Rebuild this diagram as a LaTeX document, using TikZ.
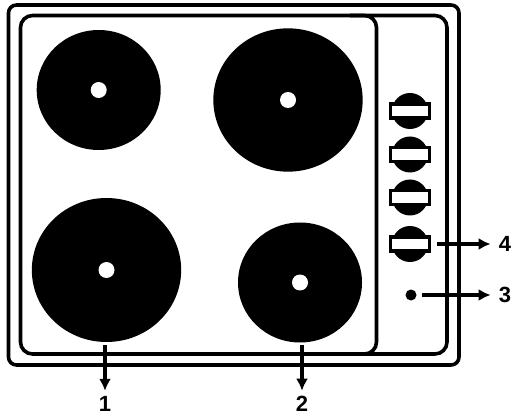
\documentclass[tikz,border=0pt]{standalone}
\usepackage{fontspec}
\setmainfont{Liberation Sans}
\usepackage{tikz}
\usetikzlibrary{arrows.meta,shapes.geometric}
\tikzset{
  plate/.style 2 args={ellipse,fill=black,inner sep=0pt,minimum width=#1,minimum height=#2},
  hole/.style={circle,fill=white,inner sep=0pt,minimum size=12pt},
  knob/.style={circle,fill=black,inner sep=0pt,minimum size=27pt},
  handle/.style={draw=black,line width=2.6pt,fill=white,inner sep=0pt,minimum width=29.6pt,minimum height=10.5pt},
  num/.style={font=\bfseries\fontsize{16.5pt}{16.5pt}\selectfont,inner sep=0pt},
  pointer/.style={line width=2.3pt,-{Latex[length=9pt,width=9pt]}},
  frame/.style={line width=2.7pt}
}
\begin{document}
\begin{tikzpicture}[x=0.75pt,y=-0.75pt]
            \useasboundingbox (0,0) rectangle (513,416);
            \fill[white] (0,0) rectangle (513,416);
            \draw[frame,rounded corners=6pt] (8.5,5) rectangle (459,365);
            \draw[frame,rounded corners=9pt] (20.5,15.5) rectangle (447,354);
            \draw[frame,rounded corners=9pt] (350,15.5)--(376.5,15.5)--(376.5,354)--(350,354);
            \node[plate={93pt}{90pt}] (plateA) at (98.7,90) {};
            \node[plate={112pt}{107.5pt}] (plateB) at (288,100) {};
            \node[plate={112pt}{108pt}] (plateC) at (106.5,270) {};
            \node[plate={93pt}{90pt}] (plateD) at (300,282.5) {};
            \node[hole] at (plateA) {};
            \node[hole] at (plateB) {};
            \node[hole] at (plateC) {};
            \node[hole] at (plateD) {};
            \foreach \n/\y in {1/111,2/154.5,3/197.5,4/244} {
                \node[knob] (knob\n) at (410,\y) {};
                \node[handle] (handle\n) at (410,\y) {};
            }
            \node[circle,fill=black,inner sep=0pt,minimum size=8.25pt] (lamp) at (411,295) {};
            \node[num] (label1) at (105,404) {1};
            \node[num] (label2) at (302,404) {2};
            \node[num] (label3) at (505,295) {3};
            \node[num] (label4) at (505,244) {4};
            \coordinate (start1) at (105,345);
            \coordinate (start2) at (302,345);
            \draw[pointer,shorten >=4pt] (start1)--(label1.north);
            \draw[pointer,shorten >=4pt] (start2)--(label2.north);
            \draw[pointer,shorten <=4pt,shorten >=6pt] (lamp.east)--(label3.west);
            \draw[pointer,shorten <=4pt,shorten >=6pt] (handle4.east)--(label4.west);
        \end{tikzpicture}
\end{document}
